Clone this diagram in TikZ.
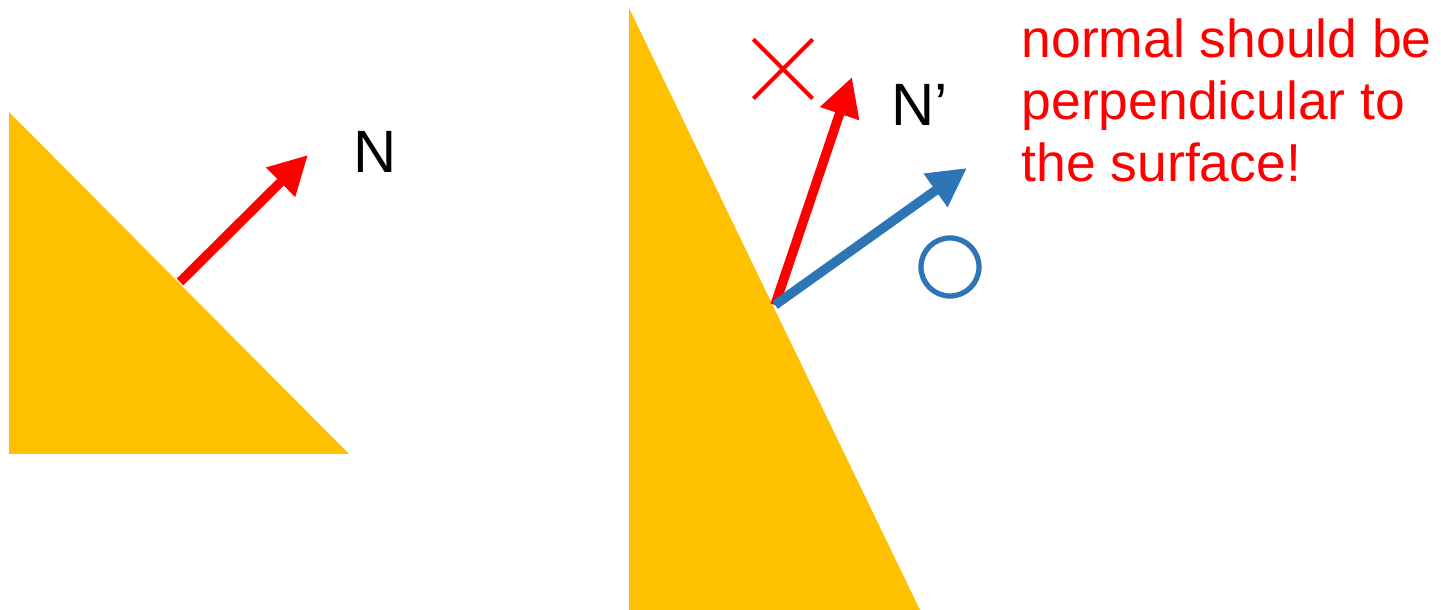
\documentclass[tikz,border=0pt]{standalone}
\usepackage{fontspec}
\setmainfont{Liberation Sans}
\usepackage{tikz}
\usetikzlibrary{arrows.meta, shapes.misc}
\definecolor{surfyellow}{RGB}{255, 192, 0}
\definecolor{normred}{RGB}{255, 0, 0}
\definecolor{normblue}{RGB}{46, 117, 182}

\begin{document}
\begin{tikzpicture}[
  x=0.01cm, y=-0.01cm,
  surface/.style={fill=surfyellow, draw=none},
  normal/.style={-{Triangle[length=11pt, width=11pt]}, line width=2.7pt},
  vlabel/.style={font=\fontsize{17}{20}\selectfont, inner sep=0pt},
  note/.style={font=\fontsize{15.2}{17.7}\selectfont, text=normred, align=left, inner sep=0pt},
]
  \useasboundingbox (0,0) rectangle (1441,610);

  % Left: flat surface and its normal
  \fill[surface] (9,112) -- (9,454) -- (349,454) -- cycle;
  \coordinate (lfoot) at (180,282);
  \coordinate (ltip) at (308,155);
  \draw[normal, normred] (lfoot) -- (ltip);
  \node[vlabel] (n) at (375,152) {N};

  % Right: stretched surface
  \fill[surface] (629,8) -- (629,610) -- (920,610) -- cycle;
  \coordinate (rfoot) at (775,305);
  \coordinate (badtip) at (852,77);
  \coordinate (goodtip) at (967,168);
  \draw[normal, normred] (rfoot) -- (badtip);
  \draw[normal, normblue] (rfoot) -- (goodtip);
  \node[vlabel] (nprime) at (920,105) {N’};

  % Marks
  \node[cross out, draw=normred, line width=1.2pt, minimum size=0.55cm, inner sep=0pt] (wrong) at (783,69) {};
  \node[circle, draw=normblue, line width=1.5pt, minimum size=0.58cm, inner sep=0pt] (right) at (950,267) {};

  % Note
  \node[note, anchor=north west] (msg) at (1021,18) {normal should be\\perpendicular to\\the surface!};
\end{tikzpicture}
\end{document}
